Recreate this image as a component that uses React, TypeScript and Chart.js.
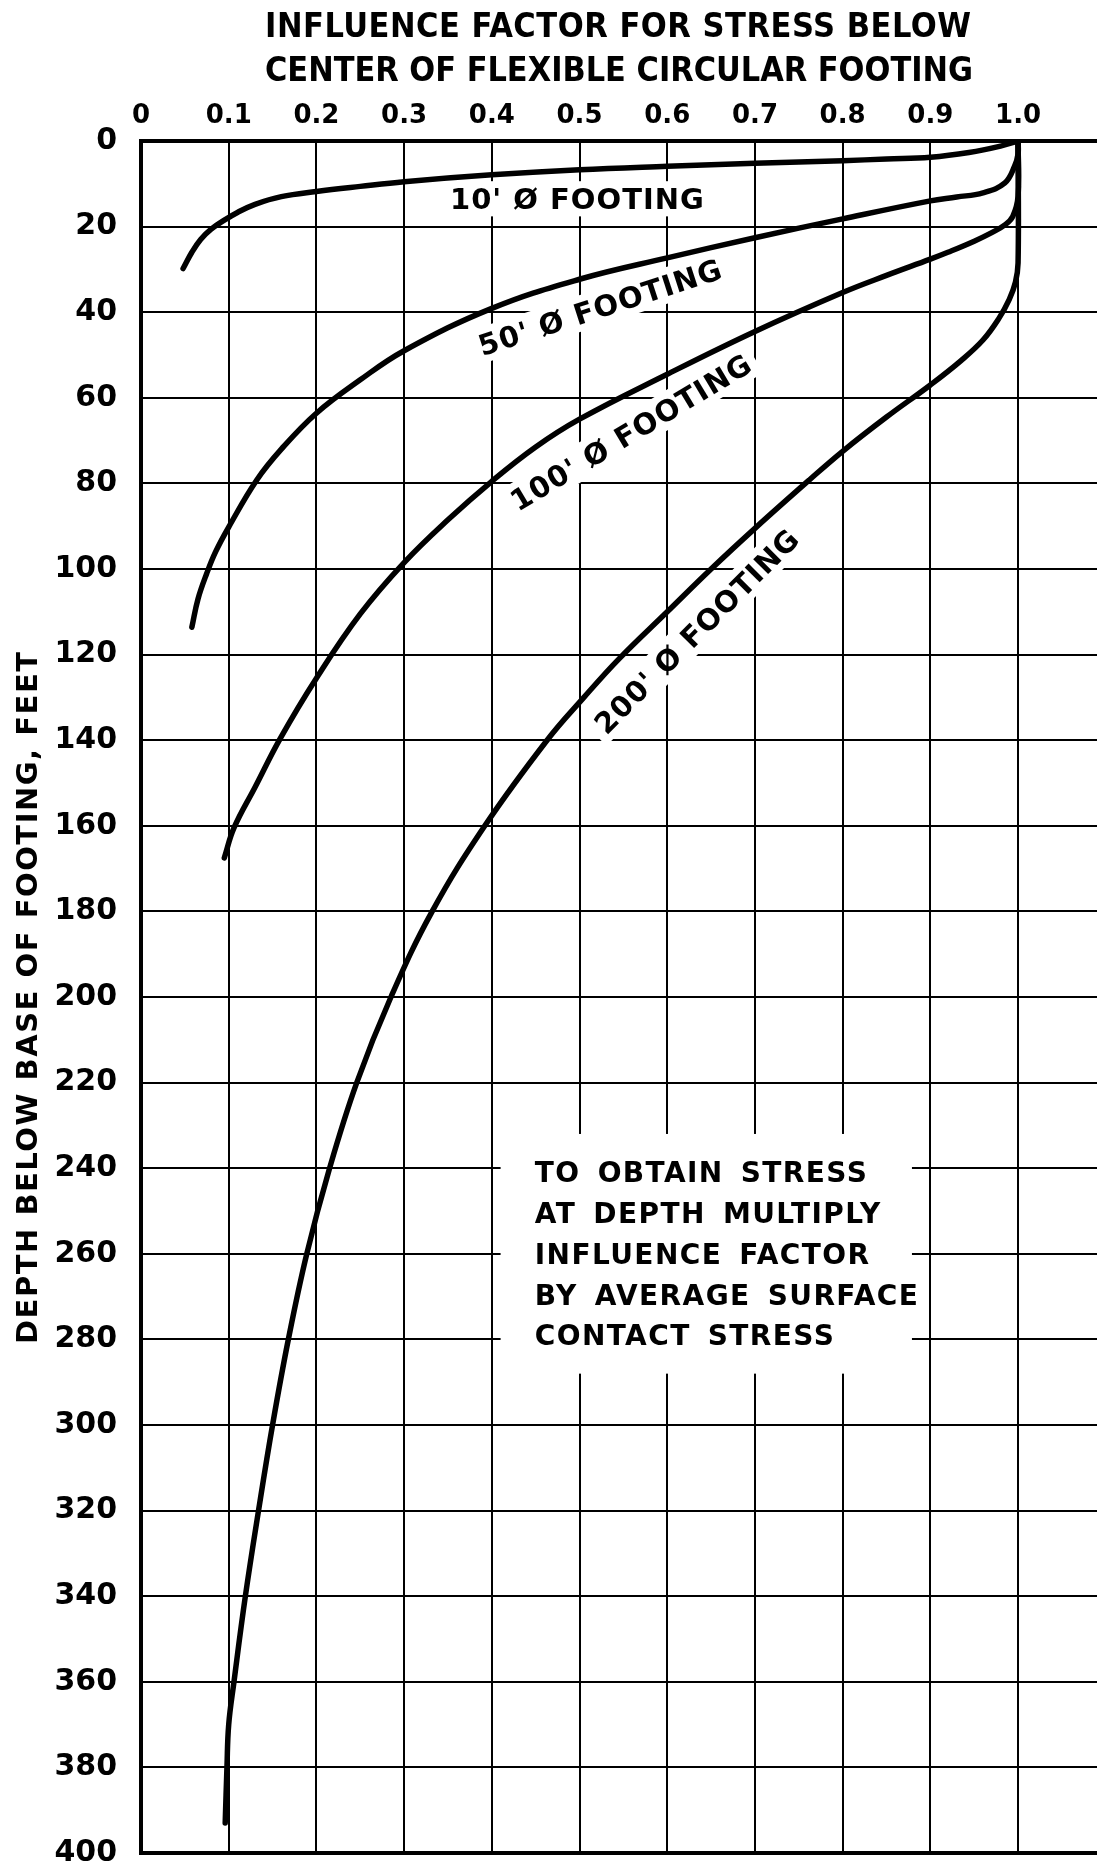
import React, { useEffect, useRef } from "react";
import { Chart, registerables } from "chart.js";

Chart.register(...registerables);

// ---------- data ----------
const X_TICKS = [0, 0.1, 0.2, 0.3, 0.4, 0.5, 0.6, 0.7, 0.8, 0.9, 1.0];
const X_TICK_LABELS = ["0", "0.1", "0.2", "0.3", "0.4", "0.5", "0.6", "0.7", "0.8", "0.9", "1.0"];
const Y_TICKS = [0, 20, 40, 60, 80, 100, 120, 140, 160, 180, 200, 220, 240, 260, 280, 300, 320, 340, 360, 380, 400];

const FOOTING_LABELS = ["10' Ø FOOTING", "50' Ø FOOTING", "100' Ø FOOTING", "200' Ø FOOTING"];

const FACTOR_10 = [1.0, 0.98, 0.944, 0.9, 0.85, 0.8, 0.7, 0.6, 0.5, 0.4, 0.3, 0.25, 0.2, 0.16, 0.13, 0.11, 0.095, 0.08, 0.068, 0.058, 0.048];
const DEPTH_10 = [0, 1.2, 2.7, 3.8, 4.2, 4.6, 5.2, 5.9, 6.7, 7.9, 9.5, 10.6, 11.8, 13.0, 14.8, 16.7, 18.5, 20.6, 23.0, 26.0, 29.8];

const FACTOR_50 = [1.0, 1.0, 0.996, 0.985, 0.96, 0.93, 0.9, 0.8, 0.7, 0.6, 0.5, 0.4, 0.3, 0.25, 0.2, 0.16, 0.132, 0.1, 0.085, 0.075, 0.065, 0.058];
const DEPTH_50 = [0, 3, 5.9, 9.8, 12.1, 13.1, 14.0, 18.2, 22.6, 27.3, 32.3, 39.1, 49.0, 55.8, 63.6, 72.0, 79.2, 90.2, 96.0, 101.0, 107.0, 113.6];

const FACTOR_100 = [1.0, 1.0, 0.994, 0.985, 0.97, 0.95, 0.92, 0.9, 0.85, 0.8, 0.7, 0.6, 0.5, 0.45, 0.4, 0.35, 0.3, 0.25, 0.2, 0.159, 0.13, 0.106, 0.095];
const DEPTH_100 = [0, 12.9, 17.6, 19.6, 21.4, 23.4, 26.0, 27.6, 31.4, 35.4, 44.5, 54.5, 65.0, 71.5, 79.5, 88.5, 98.5, 110.5, 125.5, 139.5, 151.0, 160.5, 167.5];

const FACTOR_200 = [1.0, 1.0, 0.997, 0.99, 0.978, 0.96, 0.935, 0.9, 0.85, 0.8, 0.762, 0.7, 0.65, 0.6, 0.545, 0.505, 0.463, 0.392, 0.332, 0.285, 0.246, 0.215, 0.189, 0.168, 0.15, 0.134, 0.119, 0.106, 0.1, 0.098, 0.096];
const DEPTH_200 = [0, 28.5, 33, 37, 41.5, 46.5, 51.3, 57.0, 64.5, 72.5, 79.2, 90.5, 100, 110, 121, 130, 140, 160, 180, 200, 220, 240, 260, 280, 300, 320, 340, 360, 370, 380, 393];

const TITLE_LINES = ["INFLUENCE FACTOR FOR STRESS BELOW", "CENTER OF FLEXIBLE CIRCULAR FOOTING"];
const Y_TITLE = "DEPTH BELOW BASE OF FOOTING, FEET";
const NOTE_LINES = [
  "TO OBTAIN STRESS",
  "AT DEPTH MULTIPLY",
  "INFLUENCE FACTOR",
  "BY AVERAGE SURFACE",
  "CONTACT STRESS",
];

const SERIES = [
  { factor: FACTOR_10, depth: DEPTH_10 },
  { factor: FACTOR_50, depth: DEPTH_50 },
  { factor: FACTOR_100, depth: DEPTH_100 },
  { factor: FACTOR_200, depth: DEPTH_200 },
];

// ---------- text helpers ----------
const FONT_FAMILY = '"DejaVu Sans", "Noto Sans", sans-serif';
const CAP = 0.73;

type TextOpts = {
  size: number;
  family?: string;
  target?: number;
  spacing?: number;
  wordSpacing?: number;
  rot?: number;
  align?: "center" | "left";
  knock?: { px: number; py: number };
};

function drawText(ctx: any, text: string, cx: number, cy: number, o: TextOpts) {
  ctx.save();
  ctx.font = `bold ${o.size}px ${o.family || FONT_FAMILY}`;
  ctx.letterSpacing = "0px";
  ctx.wordSpacing = "0px";
  const w0 = ctx.measureText(text).width;
  let ls = o.spacing || 0;
  let maxW: number | undefined = undefined;
  if (o.target) {
    if (w0 > o.target) {
      maxW = o.target;
      ls = 0;
    } else {
      ls = (o.target - w0) / Math.max(1, text.length - 1);
    }
  }
  ctx.letterSpacing = `${ls}px`;
  if (o.wordSpacing) ctx.wordSpacing = `${o.wordSpacing}px`;
  const w = maxW !== undefined ? maxW : ctx.measureText(text).width - ls;
  const cap = CAP * o.size;
  ctx.translate(cx, cy);
  if (o.rot) ctx.rotate((o.rot * Math.PI) / 180);
  const x0 = o.align === "left" ? 0 : -w / 2;
  if (o.knock) {
    ctx.fillStyle = "#fff";
    ctx.fillRect(x0 - o.knock.px, -cap / 2 - o.knock.py, w + 2 * o.knock.px, cap + 2 * o.knock.py);
  }
  ctx.fillStyle = "#000";
  ctx.textAlign = "left";
  ctx.textBaseline = "alphabetic";
  if (maxW !== undefined) ctx.fillText(text, x0, cap / 2, maxW);
  else ctx.fillText(text, x0, cap / 2);
  ctx.restore();
}

const annotations = {
  id: "annotations",
  beforeDraw(chart: any) {
    const { ctx, width, height } = chart;
    ctx.save();
    ctx.fillStyle = "#fff";
    ctx.fillRect(0, 0, width, height);
    ctx.restore();
  },
  beforeDatasetsDraw(chart: any, _args: any, opts: any) {
    const { ctx } = chart;
    const xs = chart.scales.x;
    const ys = chart.scales.y;
    // note box (white knock-out of the grid)
    const nb = opts.noteBox;
    const bx0 = xs.getPixelForValue(nb.x0);
    const bx1 = xs.getPixelForValue(nb.x1);
    const by0 = ys.getPixelForValue(nb.y0);
    const by1 = ys.getPixelForValue(nb.y1);
    ctx.save();
    ctx.fillStyle = "#fff";
    ctx.fillRect(bx0, by0, bx1 - bx0, by1 - by0);
    ctx.restore();
    const nx = xs.getPixelForValue(opts.note.x);
    const ny = ys.getPixelForValue(opts.note.y);
    NOTE_LINES.forEach((line, i) => {
      drawText(ctx, line, nx, ny + i * opts.note.lineGap, {
        size: opts.note.size,
        spacing: opts.note.spacing,
        wordSpacing: opts.note.wordSpacing,
        align: "left",
      });
    });
    // curve labels
    opts.curveLabels.forEach((spot: any, i: number) => {
      drawText(ctx, FOOTING_LABELS[i], xs.getPixelForValue(spot.x), ys.getPixelForValue(spot.y), {
        size: opts.labelSize,
        spacing: opts.labelSpacing,
        rot: spot.rot,
        knock: { px: 7, py: 7 },
      });
    });
  },
  afterDraw(chart: any, _args: any, opts: any) {
    const { ctx } = chart;
    TITLE_LINES.forEach((line, i) => {
      const t = opts.title[i];
      drawText(ctx, line, t.cx, t.cy, {
        size: t.size,
        family: '"DejaVu Sans Condensed", "DejaVu Sans", sans-serif',
        target: t.w,
      });
    });
    const yt = opts.yTitle;
    drawText(ctx, Y_TITLE, yt.cx, yt.cy, { size: yt.size, target: yt.w, rot: -90 });
  },
};

export default function App() {
  const ref = useRef<HTMLCanvasElement | null>(null);

  useEffect(() => {
    document.body.style.margin = "0";
    const canvas = ref.current;
    if (!canvas) return;
    const datasets = SERIES.map((s, i) => ({
      label: FOOTING_LABELS[i],
      data: s.factor.map((f, k) => ({ x: f, y: s.depth[k] })),
      borderColor: "#000",
      borderWidth: 5.5,
      pointRadius: 0,
      fill: false,
      tension: 0.4,
      borderCapStyle: "round" as const,
      borderJoinStyle: "round" as const,
    }));

    const chart = new Chart(canvas, {
      type: "line",
      data: { datasets },
      plugins: [annotations as any],
      options: {
        animation: false,
        responsive: false,
        maintainAspectRatio: false,
        indexAxis: "y",
        layout: { padding: { left: 0, right: 0, top: 0, bottom: 0 } },
        plugins: {
          legend: { display: false },
          tooltip: { enabled: false },
          title: { display: false },
          annotations: {
            title: [
              { cx: 618, cy: 25, w: 706, size: 34 },
              { cx: 619, cy: 68.5, w: 708, size: 34 },
            ],
            yTitle: { cx: 26, cy: 998, w: 692, size: 29 },
            noteBox: { x0: 0.41, x1: 0.879, y0: 232, y1: 288 },
            note: { x: 0.449, y: 240.9, lineGap: 40.8, size: 28, spacing: 1.4, wordSpacing: 6 },
            labelSize: 29,
            labelSpacing: 1,
            curveLabels: [
              { x: 0.497, y: 13.5, rot: 0 },
              { x: 0.523, y: 38.8, rot: -18 },
              { x: 0.558, y: 68.0, rot: -31 },
              { x: 0.633, y: 114.5, rot: -45 },
            ],
          },
        } as any,
        scales: {
          x: {
            type: "linear",
            position: "top",
            min: 0,
            max: 1.09,
            afterBuildTicks: (s: any) => {
              s.ticks = X_TICKS.map((v) => ({ value: v }));
            },
            afterFit: (s: any) => {
              s.height = 141;
            },
            ticks: {
              autoSkip: false,
              maxRotation: 0,
              padding: 9,
              color: "#000",
              font: { family: FONT_FAMILY, size: 26, weight: "bold" },
              callback: (_v: any, i: number) => X_TICK_LABELS[i],
            },
            grid: {
              color: "#000",
              drawTicks: false,
              lineWidth: (c: any) => (c.tick && c.tick.value === 0 ? 4 : 2),
            },
            border: { display: true, color: "#000", width: 4 },
          },
          y: {
            type: "linear",
            position: "left",
            reverse: true,
            min: 0,
            max: 400,
            afterBuildTicks: (s: any) => {
              s.ticks = Y_TICKS.map((v) => ({ value: v }));
            },
            afterFit: (s: any) => {
              s.width = 141;
              s.paddingTop = 0;
              s.paddingBottom = 18;
            },
            ticks: {
              autoSkip: false,
              padding: 24,
              color: "#000",
              font: { family: FONT_FAMILY, size: 30, weight: "bold" },
              callback: (v: any) => String(v),
            },
            grid: {
              color: "#000",
              drawTicks: false,
              lineWidth: (c: any) => (c.tick && (c.tick.value === 400 || c.tick.value === 0) ? 4 : 2),
            },
            border: { display: true, color: "#000", width: 4 },
          },
        },
      } as any,
    });
    return () => chart.destroy();
  }, []);

  return (
    <div style={{ position: "absolute", left: 0, top: 0, width: 1097, height: 1871, background: "#fff" }}>
      <canvas ref={ref} width={1097} height={1871} style={{ display: "block", width: 1097, height: 1871 }} />
    </div>
  );
}
